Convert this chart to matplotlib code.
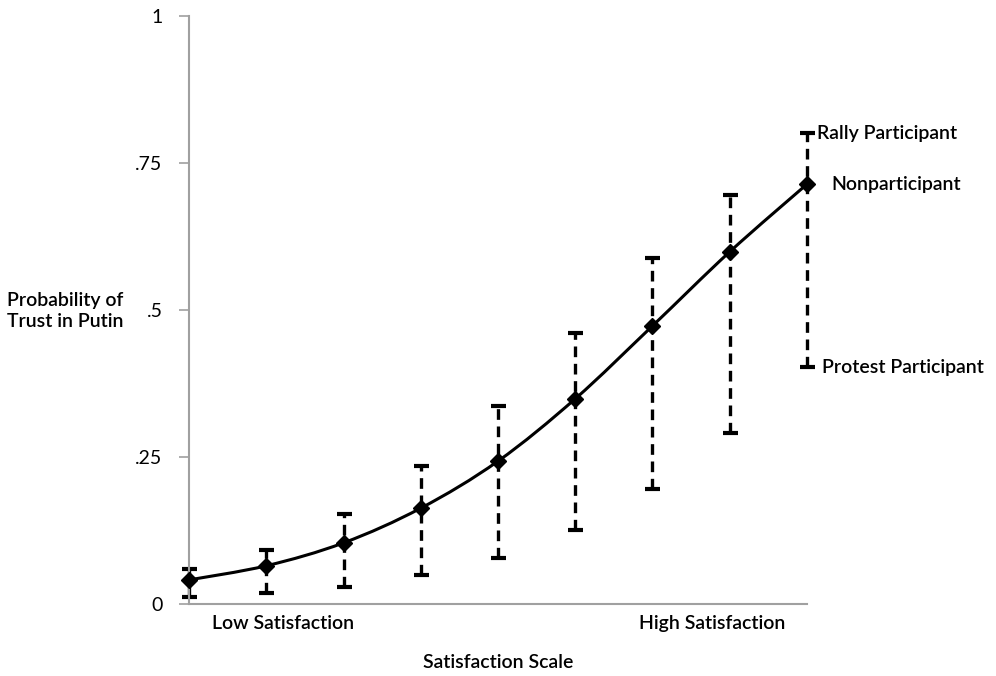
import numpy as np
import matplotlib.pyplot as plt
from matplotlib.path import Path
from matplotlib.patches import PathPatch

plt.rcParams['font.family'] = ['Lato', 'DejaVu Sans']

# satisfaction scale positions and predicted probabilities
scale = [1, 2, 3, 4, 5, 6, 7, 8, 9]
nonpart = [0.041, 0.065, 0.104, 0.163, 0.243, 0.349, 0.473, 0.599, 0.714]
rally = [0.060, 0.092, 0.153, 0.235, 0.337, 0.461, 0.588, 0.696, 0.801]
protest = [0.012, 0.019, 0.029, 0.049, 0.078, 0.126, 0.196, 0.291, 0.403]

yticks = [0, 0.25, 0.5, 0.75, 1]
yticklabels = ['0', '.25', '.5', '.75', '1']


def smooth_path(xs, ys):
    # catmull-rom -> bezier, like a smoothed line in a spreadsheet chart
    pts = np.column_stack([xs, ys])
    verts = [pts[0]]
    codes = [Path.MOVETO]
    n = len(pts)
    for i in range(n - 1):
        p0 = pts[max(i - 1, 0)]
        p1 = pts[i]
        p2 = pts[i + 1]
        p3 = pts[min(i + 2, n - 1)]
        c1 = p1 + (p2 - p0) / 6.0
        c2 = p2 - (p3 - p1) / 6.0
        verts += [c1, c2, p2]
        codes += [Path.CURVE4] * 3
    return Path(verts, codes)


fig = plt.figure(figsize=(9.96, 6.76), dpi=100)
ax = fig.add_axes([0.1898, 0.1065, 0.6204, 0.8698])

x = np.array(scale)
y = np.array(nonpart)
yerr = [y - np.array(protest), np.array(rally) - y]

eb = ax.errorbar(x, y, yerr=yerr, fmt='none', ecolor='black', elinewidth=2.4,
                 capsize=5.4, capthick=3, zorder=2)
for lc in eb.lines[2]:
    lc.set_linestyle((0, (3.2, 2.0)))
    lc.set_clip_on(False)
for cap in eb.lines[1]:
    cap.set_clip_on(False)

ax.add_patch(PathPatch(smooth_path(x, y), facecolor='none', edgecolor='black',
                       lw=2.2, zorder=3, clip_on=False))
ax.plot(x, y, linestyle='none', marker='D', color='black', markersize=8,
        zorder=4, clip_on=False)

ax.set_xlim(1, 9)
ax.set_ylim(0, 1)
ax.set_yticks(yticks)
ax.set_yticklabels(yticklabels, fontsize=14)
ax.set_xticks([])
ax.tick_params(axis='y', length=7, width=1.2, color='#a0a0a0', pad=12)
for s in ['top', 'right']:
    ax.spines[s].set_visible(False)
for s in ['left', 'bottom']:
    ax.spines[s].set_color('#a0a0a0')
    ax.spines[s].set_linewidth(1.5)

lab = dict(fontsize=14, fontweight='semibold', clip_on=False)
ax.text(1.3, -0.033, 'Low Satisfaction', ha='left', va='center', **lab)
ax.text(7.77, -0.033, 'High Satisfaction', ha='center', va='center', **lab)
ax.text(5.0, -0.1, 'Satisfaction Scale', ha='center', va='center', **lab)
fig.text(65 / 996, 1 - 311 / 676, 'Probability of\nTrust in Putin', ha='center',
         va='center', fontsize=14, fontweight='semibold', linespacing=1.3)

ax.text(9.13, rally[-1], 'Rally Participant', ha='left', va='center', **lab)
ax.text(9.32, nonpart[-1], 'Nonparticipant', ha='left', va='center', **lab)
ax.text(9.2, protest[-1], 'Protest Participant', ha='left', va='center', **lab)

fig.savefig('out.png', dpi=100, facecolor='white')
